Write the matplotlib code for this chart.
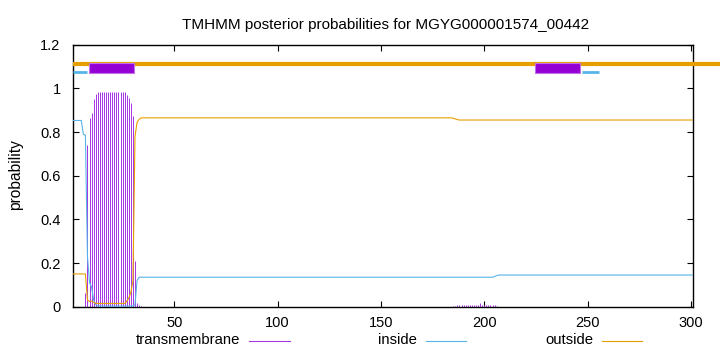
import numpy as np
import matplotlib
matplotlib.use("Agg")
import matplotlib.pyplot as plt
from matplotlib.patches import Rectangle

# ======================================================
# DATA (run-length per residue)
# ======================================================

seq_len = 301

tm_values = [0.0, 0.065, 0.74, 0.865, 0.887, 0.951, 0.976, 0.982, 0.985,
             0.971, 0.956, 0.933, 0.872, 0.21, 0.015, 0.008, 0.005, 0.0,
             0.002, 0.004, 0.007, 0.01, 0.015, 0.01, 0.006, 0.003, 0.0]
tm_counts = [6, 1, 1, 1, 1, 1, 1, 1, 13,
             1, 1, 1, 1, 1, 1, 1, 1, 150,
             1, 1, 1, 10, 1, 6, 1, 1, 95]

inside_values = [0.853, 0.79, 0.785, 0.23, 0.11, 0.09, 0.03, 0.01, 0.004,
                 0.003, 0.01, 0.12, 0.135, 0.138, 0.142, 0.145]
inside_counts = [5, 1, 1, 1, 1, 1, 1, 1, 1,
                 17, 1, 1, 172, 1, 1, 95]

outside_values = [0.15, 0.03, 0.025, 0.02, 0.015, 0.025, 0.04, 0.065, 0.118,
                  0.78, 0.845, 0.858, 0.865, 0.863, 0.86, 0.857, 0.855]
outside_counts = [7, 1, 2, 1, 15, 1, 1, 1, 1,
                  1, 1, 1, 151, 1, 1, 1, 114]

# predicted topology bars on top
tm_segments = [(8.5, 30.7), (224.7, 246.1)]
inside_segments = [(1, 7.8), (247.4, 255.3)]
outside_segments = [(1, 330)]

tick_labels_x = [50, 100, 150, 200, 250, 300]
tick_labels_y = [0, 0.2, 0.4, 0.6, 0.8, 1, 1.2]

title = "TMHMM posterior probabilities for MGYG000001574_00442"

# ======================================================
# BUILD SERIES
# ======================================================

residues = np.arange(1, seq_len + 1)
tm = np.repeat(tm_values, tm_counts)
inside = np.repeat(inside_values, inside_counts)
outside = np.repeat(outside_values, outside_counts)

TM_COLOR = "#a838e4"
BOX_COLOR = "#9400d3"
IN_COLOR = "#56b4e9"
OUT_COLOR = "#e69f00"

plt.rcParams["font.family"] = ["Liberation Sans", "DejaVu Sans"]
plt.rcParams["font.size"] = 10

fig = plt.figure(figsize=(7.2, 3.52), dpi=100)
ax = fig.add_axes([73 / 720, 1 - 306.7 / 352, 620 / 720, 262 / 352])

# posterior curves
ax.vlines(residues, 0, tm, color=TM_COLOR, linewidth=0.72, zorder=2)
ax.plot(residues, inside, color=IN_COLOR, linewidth=0.8, zorder=3)
ax.plot(residues, outside, color=OUT_COLOR, linewidth=0.8, zorder=3)

# topology line / boxes
for a, b in outside_segments:
    ax.plot([a, b], [1.113, 1.113], color=OUT_COLOR, linewidth=3.0,
            solid_capstyle="butt", clip_on=False, zorder=4)
for a, b in inside_segments:
    ax.plot([a, b], [1.074, 1.074], color=IN_COLOR, linewidth=2.0,
            solid_capstyle="butt", zorder=4)
for a, b in tm_segments:
    ax.add_patch(Rectangle((a, 1.069), b - a, 0.045, facecolor=BOX_COLOR,
                           edgecolor="#c070e8", linewidth=0.8, zorder=5))

ax.set_xlim(1, seq_len)
ax.set_ylim(0, 1.2)
ax.set_xticks(tick_labels_x)
ax.set_yticks(tick_labels_y)
ax.set_yticklabels(["0", "0.2", "0.4", "0.6", "0.8", "1", "1.2"])
ax.tick_params(direction="in", top=True, right=True, length=4,
               width=0.8, labelsize=10.5)
ax.tick_params(axis="x", pad=7)
ax.tick_params(axis="y", pad=9)
for side in ax.spines.values():
    side.set_linewidth(1.0)

fig.text(16 / 720, 1 - 175 / 352, "probability", rotation=90,
         ha="center", va="center", fontsize=11.2)
fig.text(386 / 720, 1 - 29 / 352, title, ha="center", va="baseline",
         fontsize=11)

# legend below, gnuplot style
legend_items = [("transmembrane", TM_COLOR, 240, 249, 290),
                ("inside", IN_COLOR, 417, 426, 466),
                ("outside", OUT_COLOR, 593, 602, 642)]
for label, color, text_end, l0, l1 in legend_items:
    fig.text(text_end / 720, 1 - 340 / 352, label, ha="right", va="center",
             fontsize=10.7)
    fig.add_artist(plt.Line2D([l0 / 720, l1 / 720],
                              [1 - 341 / 352, 1 - 341 / 352],
                              color=color, linewidth=0.8))

fig.savefig("out.png", dpi=100)
